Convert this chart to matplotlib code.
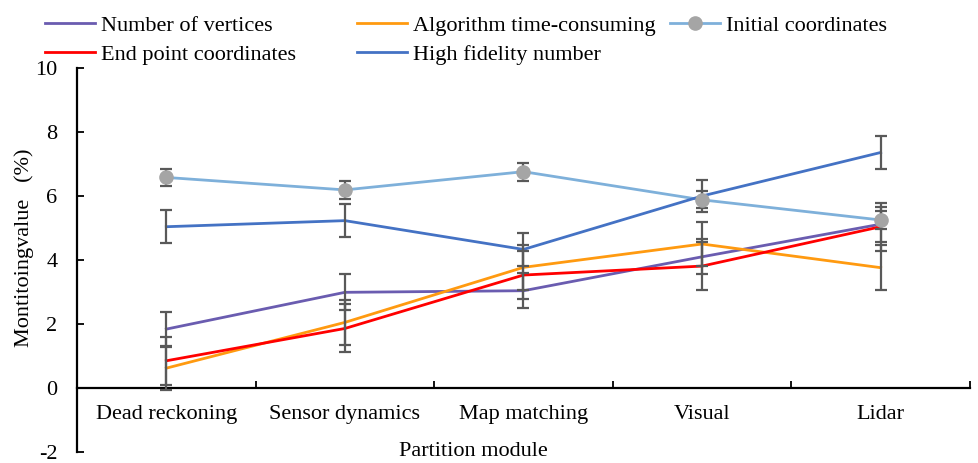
import matplotlib
matplotlib.use("Agg")
import matplotlib.pyplot as plt
from matplotlib.lines import Line2D
import numpy as np

plt.rcParams['font.family'] = ['Liberation Serif', 'DejaVu Serif']
plt.rcParams['axes.unicode_minus'] = False

categories = ["Dead reckoning", "Sensor dynamics", "Map matching", "Visual", "Lidar"]

vertices = [1.84, 2.99, 3.04, 4.10, 5.12]
vertices_err = [0.55, 0.56, 0.55, 0.55, 0.55]

algo_time = [0.62, 2.05, 3.77, 4.50, 3.76]
algo_time_err = [0.68, 0.70, 0.70, 0.70, 0.71]

initial = [6.58, 6.19, 6.76, 5.88, 5.25]
initial_err = [0.27, 0.28, 0.28, 0.27, 0.27]

endpoint = [0.85, 1.86, 3.53, 3.81, 5.04]
endpoint_err = [0.75, 0.75, 0.75, 0.75, 0.75]

high_fid = [5.04, 5.23, 4.33, 6.00, 7.36]
high_fid_err = [0.51, 0.52, 0.51, 0.50, 0.52]

yticks = [-2, 0, 2, 4, 6, 8, 10]

W, H = 979, 463
fig = plt.figure(figsize=(W / 100, H / 100), dpi=100)
ax = fig.add_axes([77 / W, 1 - 452 / H, (970 - 77) / W, (452 - 68) / H])

x = np.arange(len(categories))
fs = 16
ecol = '#595959'
lw = 2.0

series = [
    ("Number of vertices", vertices, vertices_err, '#6A5CB0', None),
    ("Algorithm time-consuming", algo_time, algo_time_err, '#FF9A10', None),
    ("Initial coordinates", initial, initial_err, '#7EB0DA', 'o'),
    ("End point coordinates", endpoint, endpoint_err, '#FF0000', None),
    ("High fidelity number", high_fid, high_fid_err, '#4472C4', None),
]

handles = {}
for name, vals, err, col, mk in series:
    ax.plot(x, vals, color=col, lw=lw, zorder=3)
    ax.errorbar(x, vals, yerr=err, fmt='none', ecolor=ecol, elinewidth=1.6,
                capsize=4.3, capthick=1.6, zorder=4)
    if mk:
        ax.plot(x, vals, linestyle='none', marker='o', markersize=9.5,
                color='#A5A5A5', zorder=5)
        handles[name] = Line2D([], [], color=col, lw=lw, marker='o',
                               markersize=9.5, markerfacecolor='#A5A5A5',
                               markeredgecolor='#A5A5A5')
    else:
        handles[name] = Line2D([], [], color=col, lw=lw)

ax.set_xlim(-0.5, 4.5)
ax.set_ylim(-2, 10)
ax.spines['top'].set_visible(False)
ax.spines['right'].set_visible(False)
ax.spines['bottom'].set_position(('data', 0))
ax.spines['bottom'].set_linewidth(1.6)
ax.spines['left'].set_linewidth(1.6)

ax.set_yticks(yticks)
ax.set_yticklabels([str(v) for v in yticks])
ax.tick_params(axis='y', direction='in', length=5, width=1.3, pad=14, labelsize=fs)

ax.set_xticks(np.arange(-0.5, 5.0, 1.0))
ax.set_xticklabels([])
ax.tick_params(axis='x', which='major', direction='in', length=5, width=1.3)
ax.set_xticks(x, minor=True)
ax.set_xticklabels(categories, minor=True)
ax.tick_params(axis='x', which='minor', length=0, pad=12, labelsize=fs)

fig.text(473 / W, 1 - 451 / H, "Partition module", ha='center', va='center', fontsize=fs)
fig.text(24 / W, 1 - 248 / H, "Montitoingvalue   (%)", ha='center', va='center',
         rotation=90, fontsize=fs)

cols = [
    (45, ["Number of vertices", "End point coordinates"]),
    (357, ["Algorithm time-consuming", "High fidelity number"]),
    (670, ["Initial coordinates"]),
]
for xpx, names in cols:
    leg = fig.legend([handles[n] for n in names], names, loc='upper left',
                     bbox_to_anchor=(xpx / W, 1 - 15 / H), frameon=False,
                     fontsize=fs, handlelength=2.25, handletextpad=0.25,
                     borderpad=0, borderaxespad=0, labelspacing=0.4)

fig.savefig("out.png", dpi=100)
